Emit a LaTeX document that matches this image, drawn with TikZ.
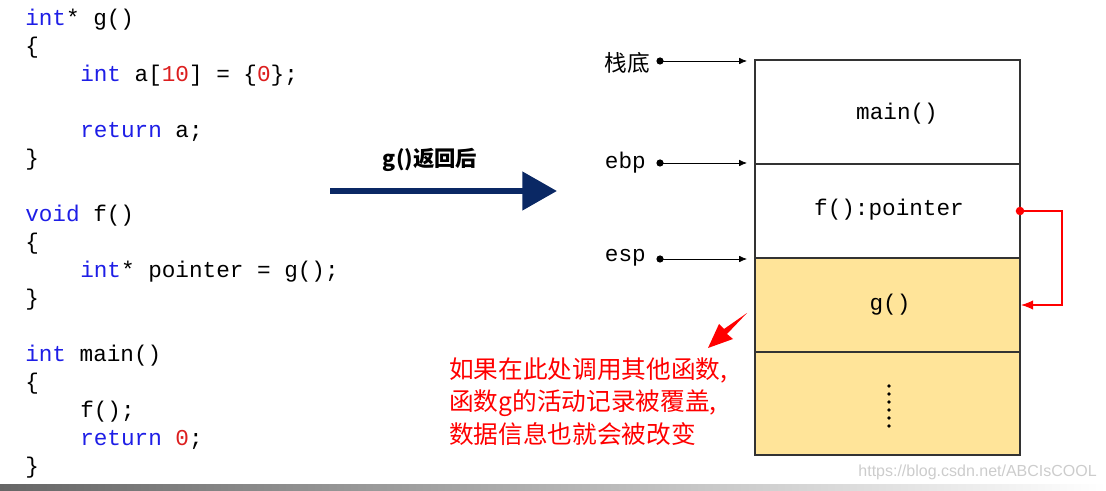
\documentclass[tikz,border=0pt]{standalone}
\usepackage{fontspec}
\setmonofont{Liberation Mono}
\newfontfamily\cjk{Noto Sans CJK SC}
\newfontfamily\arial{Liberation Sans}
\definecolor{kw}{RGB}{30,30,230}
\definecolor{num}{RGB}{220,30,30}
\definecolor{navy}{RGB}{10,40,100}
\definecolor{cell}{RGB}{255,228,153}
\tikzset{
 code/.style={anchor=west,inner sep=0,font=\ttfamily\fontsize{17}{17}\selectfont},
 cellbox/.style={draw=black!80,line width=0.8pt},
 ptr/.style={-{Latex[length=6pt,width=5pt]},line width=0.6pt},
 lbl/.style={anchor=east,inner sep=0,font=\ttfamily\fontsize{17}{17}\selectfont},
}
\usetikzlibrary{arrows.meta}
\begin{document}
\begin{tikzpicture}[x=0.75pt,y=-0.75pt]
\useasboundingbox (0,0) rectangle (1106,491);
\shade[left color=black!60,right color=white] (0,484) rectangle (1106,491);
% code
\newcommand\K[1]{\textcolor{kw}{#1}}
\newcommand\N[1]{\textcolor{num}{#1}}
\node[code] (c1) at (25,20) {\K{int}* g()};
\node[code] (c2) at (25,48) {\{};
\node[code] (c3) at (80,76) {\K{int} a[\N{10}] = \{\N{0}\};};
\node[code] (c4) at (80,132) {\K{return} a;};
\node[code] (c5) at (25,160) {\}};
\node[code] (c6) at (25,216) {\K{void} f()};
\node[code] (c7) at (25,244) {\{};
\node[code] (c8) at (80,272) {\K{int}* pointer = g();};
\node[code] (c9) at (25,300) {\}};
\node[code] (c10) at (25,356) {\K{int} main()};
\node[code] (c11) at (25,384) {\{};
\node[code] (c12) at (80,412) {f();};
\node[code] (c13) at (80,440) {\K{return} \N{0};};
\node[code] (c14) at (25,468) {\}};
% big arrow
\coordinate (a1) at (330,191); \coordinate (a2) at (557,191);
\draw[navy,line width=5pt,-{Triangle[length=26pt,width=28pt]}] (a1) -- (a2);
\node[font=\cjk\bfseries\fontsize{16}{16}\selectfont,inner sep=0] (gl) at (430,160) {g()返回后};
% stack
\fill[cell] (755,258) rectangle (1020,455);
\draw[cellbox] (755,60) rectangle (1020,455);
\draw[cellbox] (755,164) -- (1020,164);
\draw[cellbox] (755,258) -- (1020,258);
\draw[cellbox] (755,352) -- (1020,352);
\node[code,anchor=center] (m) at (897,114) {main()};
\node[code,anchor=center] (fp) at (889,210) {f():pointer};
\node[code,anchor=center] (g) at (890,305) {g()};
\foreach \yy in {386,394,402,410,418,426} \fill (889,\yy) circle (1.4pt);
% labels
\node[lbl,font=\cjk\fontsize{17}{17}\selectfont] (sd) at (650,63) {栈底};
\node[lbl] (ebp) at (646,163) {ebp};
\node[lbl] (esp) at (646,258) {esp};
\foreach \n/\yy in {sd/61,ebp/163,esp/259}{
 \coordinate (s\n) at (660,\yy); \coordinate (t\n) at (747,\yy);
 \fill (s\n) circle (2.7pt);
 \draw[ptr] (s\n) -- (t\n);
}
% red pointer
\coordinate (p0) at (1020,211); \coordinate (p3) at (1021,305);
\fill[red] (p0) circle (3.2pt);
\draw[red,line width=0.8pt,-{Latex[length=9pt,width=7pt]}] (p0) -- (1062,211) -- (1062,305) -- (p3);
% red arrow
\fill[red] (747,313) -- (727,334) -- (733,339) -- (708,348) -- (719,324) -- (724,329) -- cycle;
\node[anchor=north west,inner sep=0,align=left,text=red,font=\cjk\fontsize{18.5}{24.5}\selectfont] (note) at (449,357) {如果在此处调用其他函数,\\函数g的活动记录被覆盖,\\数据信息也就会被改变};
\node[anchor=east,inner sep=0,text=black!20,font=\arial\fontsize{12}{12}\selectfont] (wm) at (1097,472) {https://blog.csdn.net/ABCIsCOOL};
\end{tikzpicture}
\end{document}
